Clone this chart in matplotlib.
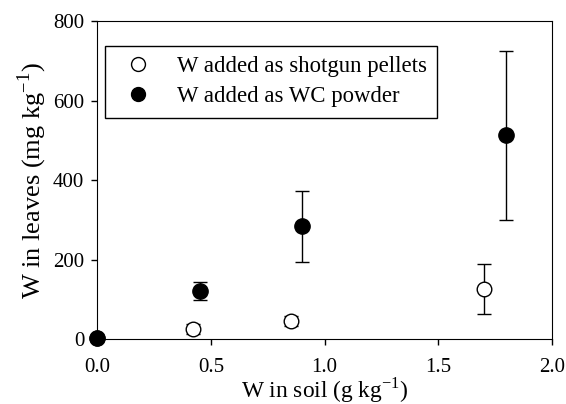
import matplotlib.pyplot as plt
from matplotlib.lines import Line2D

plt.rcParams['font.family'] = ['Liberation Serif', 'DejaVu Serif']
plt.rcParams['mathtext.fontset'] = 'custom'
plt.rcParams['mathtext.rm'] = 'Liberation Serif'

# data
pellet_x = [0.0, 0.42, 0.85, 1.70]
pellet_y = [3, 26, 46, 127]
pellet_err = [0, 12, 12, 63]

powder_x = [0.0, 0.45, 0.90, 1.80]
powder_y = [3, 122, 284, 513]
powder_err = [0, 22, 89, 212]

labels = ['W added as shotgun pellets', 'W added as WC powder']

fig, ax = plt.subplots(figsize=(5.66, 4.04), dpi=100)
fig.subplots_adjust(left=0.172, right=0.975, top=0.948, bottom=0.16)

ax.errorbar(pellet_x, pellet_y, yerr=pellet_err, fmt='o', ms=10.5, mfc='white',
            mec='black', mew=1.0, ecolor='black', elinewidth=1.0, capsize=4.7,
            capthick=1.0, clip_on=False, zorder=3)
ax.errorbar(powder_x, powder_y, yerr=powder_err, fmt='o', ms=11, mfc='black',
            mec='black', ecolor='black', elinewidth=1.0, capsize=4.7,
            capthick=1.0, clip_on=False, zorder=4)

ax.set_xlim(0, 2.0)
ax.set_ylim(0, 800)
ax.set_xticks([0.0, 0.5, 1.0, 1.5, 2.0])
ax.set_xticklabels(['0.0', '0.5', '1.0', '1.5', '2.0'])
ax.set_yticks([0, 200, 400, 600, 800])
ax.tick_params(direction='out', length=4.5, width=1, labelsize=15, top=False, right=False)
ax.tick_params(axis='x', pad=9)
ax.tick_params(axis='y', pad=5)

ax.set_xlabel('W in soil (g kg$^{-1}$)', fontsize=16.8)
ax.xaxis.set_label_coords(0.5, -0.112)
ax.set_ylabel('W in leaves (mg kg$^{-1}$)', fontsize=19, labelpad=3)

handles = [
    Line2D([], [], ls='none', marker='o', ms=10, mfc='white', mec='black', mew=1.0),
    Line2D([], [], ls='none', marker='o', ms=10, mfc='black', mec='black'),
]
leg = ax.legend(handles, labels, loc='upper left', bbox_to_anchor=(0.016, 0.923),
                fontsize=16.4, frameon=True, fancybox=False, edgecolor='black',
                framealpha=1, handletextpad=0.72, borderpad=0.45, labelspacing=0.42,
                handlelength=2.0, borderaxespad=0)
leg.get_frame().set_linewidth(1.0)

plt.savefig('out.png', dpi=100)
